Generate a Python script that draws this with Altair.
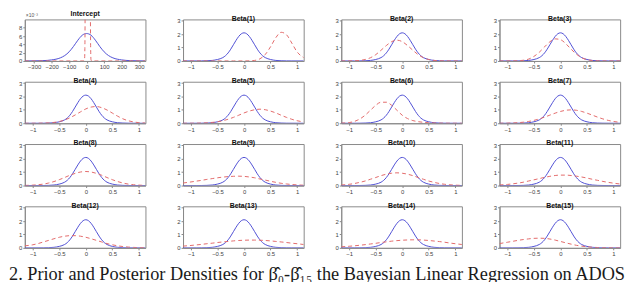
import altair as alt
import pandas as pd

BLUE = "#5050d4"
RED = "#e36a6a"
W, H = 122, 42
ROW_GAP, COL_GAP = 21, 38

TITLES = ["Intercept"] + [f"Beta({i})" for i in range(1, 16)]
EXP_LABEL = "×10⁻³"
CAPTION = "2. Prior and Posterior Densities for β̂₀-β̂₁₅ the Bayesian Linear Regression on ADOS-2 Total Score"

# Intercept panel (density in units of 1e-3)
INT_X = [-353, -300, -250, -200, -150, -125, -100, -75, -50, -25, 0, 25, 50, 75, 100, 125, 150, 200, 250, 300, 336]
INT_PRIOR = [0.01, 0.03, 0.08, 0.25, 0.75, 1.3, 2.2, 3.5, 5.0, 6.2, 6.6, 6.2, 5.0, 3.5, 2.2, 1.3, 0.75, 0.25, 0.08, 0.03, 0.01]
INT_POST_X = [-353, -15, -12, -10, -8, 7, 21, 23, 25, 30, 336]
INT_POST = [0, 0, 0.3, 3, 14, 40, 14, 3, 0.3, 0, 0]

# Beta prior (same in every Beta panel)
PRIOR_X = [-1.15, -0.9, -0.8, -0.7, -0.6, -0.5, -0.4, -0.35, -0.3, -0.25, -0.2, -0.15, -0.1, -0.05, 0.0,
           0.05, 0.1, 0.15, 0.2, 0.25, 0.3, 0.35, 0.4, 0.5, 0.6, 0.7, 0.8, 0.9, 1.125]
PRIOR_Y = [0.0, 0.002, 0.005, 0.015, 0.04, 0.11, 0.25, 0.39, 0.60, 0.88, 1.21, 1.54, 1.83, 2.03, 2.10,
           2.03, 1.83, 1.54, 1.21, 0.88, 0.60, 0.39, 0.25, 0.11, 0.04, 0.015, 0.005, 0.002, 0.0]

# Posterior densities, all on the same x grid
POST_X = [-1.15, -1.0, -0.9, -0.8, -0.7, -0.6, -0.5, -0.4, -0.3, -0.2, -0.1, 0.0,
          0.1, 0.2, 0.3, 0.4, 0.5, 0.6, 0.7, 0.8, 0.9, 1.0, 1.125]
POST_B1 = [0, 0, 0, 0, 0, 0, 0, 0, 0, 0, 0, 0.001, 0.008, 0.04, 0.16, 0.48, 1.06, 1.74, 2.14, 1.96, 1.34, 0.68, 0.25]
POST_B2 = [0, 0.004, 0.014, 0.041, 0.108, 0.24, 0.47, 0.80, 1.15, 1.44, 1.55, 1.44, 1.15, 0.80, 0.47, 0.24, 0.108, 0.041, 0.014, 0.004, 0, 0, 0]
POST_B3 = [0, 0.001, 0.004, 0.016, 0.053, 0.14, 0.34, 0.65, 1.05, 1.43, 1.65, 1.59, 1.29, 0.88, 0.51, 0.24, 0.10, 0.034, 0.01, 0.003, 0, 0, 0]
POST_B4 = [0, 0.001, 0.004, 0.012, 0.029, 0.064, 0.13, 0.24, 0.41, 0.62, 0.85, 1.07, 1.21, 1.25, 1.16, 0.99, 0.76, 0.53, 0.33, 0.19, 0.10, 0.047, 0.016]
POST_B5 = [0.001, 0.003, 0.007, 0.016, 0.033, 0.064, 0.11, 0.19, 0.30, 0.44, 0.60, 0.77, 0.91, 1.01, 1.05, 1.01, 0.91, 0.77, 0.60, 0.44, 0.30, 0.19, 0.10]
POST_B6 = [0.01, 0.054, 0.14, 0.32, 0.60, 0.97, 1.34, 1.57, 1.57, 1.34, 0.97, 0.60, 0.35, 0.20, 0.12, 0.07, 0.04, 0.02, 0.01, 0.005, 0.002, 0, 0]
POST_B7 = [0.003, 0.011, 0.023, 0.044, 0.080, 0.135, 0.216, 0.325, 0.458, 0.607, 0.755, 0.882, 0.969, 1.0, 0.969, 0.882, 0.755, 0.607, 0.458, 0.325, 0.216, 0.135, 0.069]
POST_B8 = [0.011, 0.033, 0.064, 0.11, 0.19, 0.30, 0.44, 0.60, 0.77, 0.91, 1.01, 1.05, 1.01, 0.91, 0.77, 0.60, 0.44, 0.30, 0.19, 0.11, 0.064, 0.033, 0.013]
POST_B9 = [0.19, 0.27, 0.33, 0.39, 0.46, 0.52, 0.58, 0.63, 0.67, 0.69, 0.70, 0.685, 0.64, 0.58, 0.49, 0.41, 0.32, 0.24, 0.17, 0.12, 0.08, 0.05, 0.027]
POST_B10 = [0.042, 0.095, 0.155, 0.24, 0.34, 0.47, 0.60, 0.74, 0.85, 0.92, 0.95, 0.92, 0.85, 0.74, 0.60, 0.47, 0.34, 0.24, 0.155, 0.095, 0.056, 0.031, 0.013]
POST_B11 = [0.044, 0.086, 0.128, 0.184, 0.25, 0.34, 0.43, 0.52, 0.61, 0.69, 0.75, 0.78, 0.78, 0.75, 0.70, 0.64, 0.56, 0.47, 0.39, 0.31, 0.24, 0.18, 0.115]
POST_B12 = [0.15, 0.23, 0.32, 0.44, 0.56, 0.68, 0.79, 0.87, 0.91, 0.91, 0.87, 0.79, 0.68, 0.56, 0.44, 0.32, 0.23, 0.155, 0.099, 0.06, 0.035, 0.019, 0.009]
POST_B13 = [0.13, 0.18, 0.22, 0.26, 0.31, 0.35, 0.40, 0.44, 0.48, 0.52, 0.55, 0.57, 0.58, 0.58, 0.57, 0.55, 0.52, 0.48, 0.44, 0.40, 0.35, 0.31, 0.25]
POST_B14 = [0.079, 0.12, 0.155, 0.195, 0.24, 0.29, 0.34, 0.40, 0.45, 0.50, 0.54, 0.57, 0.59, 0.60, 0.60, 0.58, 0.55, 0.51, 0.47, 0.42, 0.36, 0.31, 0.25]
POST_B15 = [0.32, 0.42, 0.49, 0.56, 0.62, 0.67, 0.71, 0.72, 0.71, 0.66, 0.58, 0.48, 0.375, 0.28, 0.19, 0.13, 0.08, 0.047, 0.026, 0.014, 0.007, 0.003, 0.001]

POSTS = [POST_B1, POST_B2, POST_B3, POST_B4, POST_B5, POST_B6, POST_B7, POST_B8,
         POST_B9, POST_B10, POST_B11, POST_B12, POST_B13, POST_B14, POST_B15]

INT_XDOM, INT_YDOM = [-353, 336], [0, 10]
INT_XTICKS, INT_YTICKS = [-300, -200, -100, 0, 100, 200, 300], [0, 2, 4, 6, 8]
B_XDOM, B_YDOM = [-1.15, 1.125], [0, 3.1]
B_XTICKS, B_YTICKS = [-1, -0.5, 0, 0.5, 1], [0, 1, 2, 3]


def make_panel(title, px, py, qx, qy, xdom, ydom, xvals, yvals, xfmt,
               exp_label=False, caption=False):
    prior = pd.DataFrame({"x": px, "y": py})
    post = pd.DataFrame({"x": qx, "y": qy})
    xenc = alt.X("x:Q", scale=alt.Scale(domain=xdom, nice=False, zero=False),
                 axis=alt.Axis(values=xvals, title=None, format=xfmt))
    yenc = alt.Y("y:Q", scale=alt.Scale(domain=ydom, nice=False, zero=False),
                 axis=alt.Axis(values=yvals, title=None, format="d"))
    l1 = alt.Chart(prior).mark_line(color=BLUE, strokeWidth=1, interpolate="monotone",
                                    clip=True).encode(x=xenc, y=yenc)
    l2 = alt.Chart(post).mark_line(color=RED, strokeWidth=1, strokeDash=[4, 3],
                                   interpolate="monotone", clip=True).encode(x=xenc, y=yenc)
    layers = [l1, l2]
    if exp_label:
        t = alt.Chart(pd.DataFrame({"t": [EXP_LABEL]})).mark_text(
            align="left", baseline="bottom", fontSize=5, color="#555", font="Liberation Sans"
        ).encode(text="t:N", x=alt.value(1), y=alt.value(-1))
        layers.append(t)
    if caption:
        c = alt.Chart(pd.DataFrame({"t": [CAPTION]})).mark_text(
            align="left", baseline="alphabetic", font="Liberation Serif", fontSize=18.5,
            color="#1a1a1a", limit=630, ellipsis=" "
        ).encode(text="t:N", x=alt.value(-16), y=alt.value(H + 32))
        layers.append(c)
    return alt.layer(*layers).properties(
        width=W, height=H,
        title=alt.TitleParams(title, fontSize=7, fontWeight="bold", offset=-4,
                              color="#111", font="Liberation Sans"))


panels = [make_panel(TITLES[0], INT_X, INT_PRIOR, INT_POST_X, INT_POST,
                     INT_XDOM, INT_YDOM, INT_XTICKS, INT_YTICKS, "d", exp_label=True)]
for i, post in enumerate(POSTS):
    panels.append(make_panel(TITLES[i + 1], PRIOR_X, PRIOR_Y, POST_X, post,
                             B_XDOM, B_YDOM, B_XTICKS, B_YTICKS, "~g", caption=(i == 11)))

chart = alt.concat(*panels, columns=4, spacing={"row": ROW_GAP, "column": COL_GAP},
                   bounds="flush").properties(
    padding={"left": 0, "top": 0, "right": 0, "bottom": 0}
).configure_view(stroke="#8a8a8a", strokeWidth=1).configure_axis(
    labelFontSize=6, labelFont="Liberation Sans", labelColor="#444", tickSize=2,
    tickColor="#888", domainColor="#8a8a8a", grid=False, labelPadding=1,
    labelFlush=False, labelOverlap=False
)

chart.save("out.html", embed_options={"renderer": "svg", "actions": False})
